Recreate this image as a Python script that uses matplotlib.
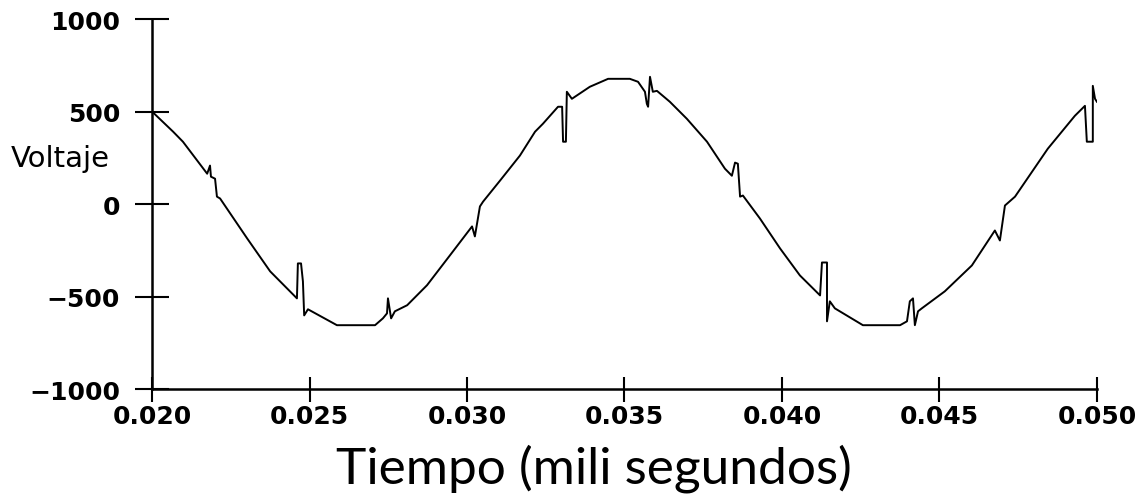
import matplotlib
matplotlib.use("Agg")
import matplotlib.pyplot as plt

# waveform (time in s, voltage)
tiempo = [0.02000, 0.02067, 0.02098, 0.02175, 0.02184, 0.02187, 0.02200, 0.02206,
          0.02216, 0.02302, 0.02375, 0.02460, 0.02463, 0.02473, 0.02479, 0.02483,
          0.02495, 0.02587, 0.02708, 0.02733, 0.02746, 0.02749, 0.02759, 0.02771,
          0.02810, 0.02873, 0.02946, 0.03016, 0.03025, 0.03041, 0.03051, 0.03105,
          0.03168, 0.03216, 0.03241, 0.03289, 0.03302, 0.03305, 0.03314, 0.03317,
          0.03333, 0.03390, 0.03448, 0.03517, 0.03543, 0.03565, 0.03571, 0.03575,
          0.03581, 0.03590, 0.03603, 0.03644, 0.03698, 0.03762, 0.03819, 0.03841,
          0.03851, 0.03860, 0.03867, 0.03876, 0.03930, 0.03994, 0.04057, 0.04121,
          0.04127, 0.04143, 0.04143, 0.04152, 0.04168, 0.04257, 0.04375, 0.04397,
          0.04406, 0.04416, 0.04422, 0.04432, 0.04444, 0.04517, 0.04603, 0.04676,
          0.04692, 0.04708, 0.04740, 0.04844, 0.04930, 0.04962, 0.04968, 0.04987,
          0.04987, 0.04994, 0.05000]
voltaje = [500, 391, 337, 164, 208, 148, 137, 40,
           30, -186, -364, -510, -321, -321, -418, -602,
           -569, -655, -655, -618, -591, -510, -618, -580,
           -547, -439, -277, -121, -175, -13, 13, 127,
           262, 391, 434, 526, 526, 337, 337, 607,
           569, 634, 677, 677, 661, 607, 542, 526,
           688, 607, 612, 553, 461, 337, 191, 153,
           224, 218, 40, 46, -78, -240, -386, -494,
           -316, -316, -634, -526, -564, -655, -655, -634,
           -526, -510, -655, -580, -564, -472, -332, -143,
           -197, -8, 40, 299, 477, 531, 337, 337,
           639, 569, 553]

xticks = [0.020, 0.025, 0.030, 0.035, 0.040, 0.045, 0.050]
xlabels = ["0.020", "0.025", "0.030", "0.035", "0.040", "0.045", "0.050"]
yticks = [-1000, -500, 0, 500, 1000]
ylabels = ["\u22121000", "\u2212500", "0", "500", "1000"]

fig = plt.figure(figsize=(11.45, 5.02), dpi=100)
ax = fig.add_axes([0.1328, 0.2231, 0.8252, 0.7369])

ax.plot(tiempo, voltaje, color="black", lw=1.4)

ax.set_xlim(0.020, 0.050)
ax.set_ylim(-1000, 1000)
ax.spines["top"].set_visible(False)
ax.spines["right"].set_visible(False)
ax.spines["left"].set_linewidth(1.8)
ax.spines["bottom"].set_linewidth(1.8)

ax.set_xticks(xticks)
ax.set_xticklabels(xlabels, fontsize=18, fontweight="bold")
ax.set_yticks(yticks)
ax.set_yticklabels(ylabels, fontsize=18, fontweight="bold")
ax.tick_params(axis="y", direction="inout", length=24, width=1.5, pad=11)
ax.tick_params(axis="x", direction="inout", length=18, width=1.5, pad=2)

fig.text(0.009, 0.683, "Voltaje", fontsize=21, ha="left", va="center")
fig.text(0.519, 0.066, "Tiempo (mili segundos)", fontsize=37, family="Lato",
         ha="center", va="center")

fig.savefig("out.png", dpi=100, facecolor="white")
